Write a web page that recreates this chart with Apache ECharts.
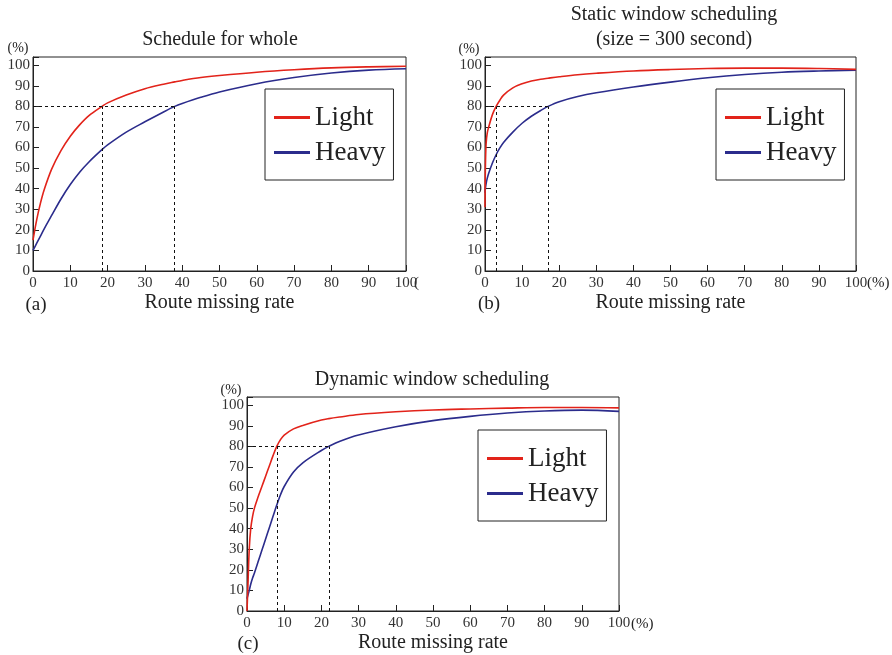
<!DOCTYPE html>
<html><head><meta charset="utf-8">
<script src="https://cdn.jsdelivr.net/npm/echarts@6/dist/echarts.min.js"></script>
<style>html,body{margin:0;padding:0;background:#fff}#c{width:892px;height:655px}</style>
</head><body><div id="c"></div>
<script>
// ---- data ----
const seriesNames = ['Light', 'Heavy'];
const xAxisName = 'Route missing rate';
const panelTitles = [['Schedule for whole'], ['Static window scheduling', '(size = 300 second)'], ['Dynamic window scheduling']];
const panelLetters = ['(a)', '(b)', '(c)'];

const aX      = [0, 1, 2, 3, 5, 7.5, 10, 12.5, 15, 18.5, 20, 25, 30, 35, 38, 40, 45, 50, 60, 70, 80, 90, 100];
const aLight  = [15, 25, 33, 39.5, 49.5, 58.5, 65.5, 71, 75.5, 80, 81.7, 85.5, 88.6, 90.8, 91.9, 92.6, 94, 95, 96.6, 97.8, 98.7, 99.2, 99.5];
const aHeavy  = [10, 13.5, 17, 20.5, 27, 35, 42, 48, 53, 59, 61.3, 67.5, 72.5, 77.3, 80, 81.4, 84.4, 87, 91, 94, 96.2, 97.6, 98.3];
const aGuideX = [18.5, 38];

const bX      = [0, 0.1, 0.3, 0.6, 1, 2, 3, 4, 5, 7.5, 10, 12.5, 15, 17, 20, 25, 30, 40, 50, 60, 70, 80, 90, 100];
const bLight  = [31, 50, 62, 67, 70, 76, 80, 83, 85.5, 89, 91, 92.3, 93.2, 93.7, 94.4, 95.4, 96.1, 97.2, 97.9, 98.4, 98.6, 98.6, 98.4, 98];
const bHeavy  = [38, 40, 42.5, 45, 47.5, 52.5, 56.5, 59.8, 62.5, 67.5, 71.8, 75.2, 78, 80, 82.3, 84.8, 86.6, 89.4, 91.8, 93.9, 95.5, 96.6, 97.2, 97.6];
const bGuideX = [3, 17];

const cX      = [0, 0.3, 0.6, 1, 1.5, 2, 3, 4, 5, 6, 7, 8, 9, 10, 12.5, 15, 20, 22, 25, 30, 40, 50, 60, 70, 80, 90, 100];
const cLight  = [0, 15, 30, 40, 46, 50, 55.5, 60.5, 65.5, 70.5, 75.5, 80, 83.3, 85.5, 88.5, 90.2, 92.8, 93.5, 94.3, 95.5, 96.8, 97.7, 98.2, 98.6, 98.9, 98.9, 98.7];
const cHeavy  = [6, 8, 10, 13, 16, 18.5, 24, 29.5, 35, 40.5, 46, 51.5, 56.5, 60.5, 67.5, 72, 78, 80, 82.5, 85.5, 89.5, 92.5, 94.6, 96.2, 97.2, 97.6, 97];
const cGuideX = [8, 22];
const guideY = 80;

// ---- chart ----
const F = '"Liberation Serif", "Times New Roman", serif';
const INK = '#222';
const RED = '#e2231a', BLUE = '#2b2c8c';

const grids = [
  {left: 33, top: 57, width: 373, height: 214},
  {left: 485, top: 57, width: 371, height: 214},
  {left: 247, top: 397, width: 372, height: 214}
];
const legendPos = [{left: 265, top: 89}, {left: 716, top: 89}, {left: 478, top: 430}];

function zip(xs, ys) { return xs.map((x, i) => [x, ys[i]]); }

function xAx(gi) {
  return {type: 'value', gridIndex: gi, min: 0, max: 100, interval: 10,
    name: xAxisName, nameLocation: 'middle', nameGap: 22,
    nameTextStyle: {fontFamily: F, fontSize: 20, color: INK},
    axisLine: {lineStyle: {color: INK, width: 1}},
    axisTick: {inside: true, length: 6, lineStyle: {color: INK}},
    axisLabel: {fontFamily: F, fontSize: 15, color: '#333', margin: 5},
    splitLine: {show: false}};
}
function yAx(gi) {
  return {type: 'value', gridIndex: gi, min: 0, max: 104, interval: 10,
    axisLine: {show: true, lineStyle: {color: INK, width: 1}},
    axisTick: {inside: true, length: 6, lineStyle: {color: INK}},
    axisLabel: {fontFamily: F, fontSize: 15, color: '#333', margin: 3,
      formatter: v => (v > 100 ? '' : String(v))},
    splitLine: {show: false}};
}
function guides(gx) {
  const xMax = Math.max(...gx);
  const d = [[{coord: [0, guideY]}, {coord: [xMax, guideY]}]];
  gx.forEach(x => d.push([{coord: [x, 0]}, {coord: [x, guideY]}]));
  return {silent: true, symbol: 'none', label: {show: false},
    lineStyle: {color: '#111', type: [3, 3], width: 1}, emphasis: {disabled: true}, data: d};
}
function lineSeries(name, gi, data, color, ml) {
  const s = {type: 'line', name, xAxisIndex: gi, yAxisIndex: gi, data,
    showSymbol: false, smooth: 0.35, z: 3,
    lineStyle: {color, width: 1.6}, itemStyle: {color}};
  if (ml) s.markLine = ml;
  return s;
}

const panels = [[aX, aLight, aHeavy, aGuideX], [bX, bLight, bHeavy, bGuideX], [cX, cLight, cHeavy, cGuideX]];
const series = [];
panels.forEach((p, i) => {
  series.push(lineSeries(seriesNames[1], i, zip(p[0], p[2]), BLUE));
  series.push(lineSeries(seriesNames[0], i, zip(p[0], p[1]), RED, guides(p[3])));
});

const legends = legendPos.map(lp => ({
  left: lp.left, top: lp.top, orient: 'vertical', data: seriesNames,
  borderColor: INK, borderWidth: 1, padding: [15, 8, 14, 9], itemGap: 8,
  itemWidth: 36, itemHeight: 3, icon: 'rect', itemTextGap: 13,
  selectedMode: false, textStyle: {fontFamily: F, fontSize: 27, color: INK}
}));

function txt(text, x, y, size, align) {
  return {type: 'text', x, y, silent: true, style: {text, font: size + 'px ' + F, fill: INK,
    align: align || 'center', verticalAlign: 'middle', textAlign: align || 'center', textVerticalAlign: 'middle'}};
}
const graphic = [
  txt(panelTitles[0][0], 220, 40, 20),
  txt(panelTitles[1][0], 674, 15, 20),
  txt(panelTitles[1][1], 674, 40, 20),
  txt(panelTitles[2][0], 432, 380, 20),
  txt('(%)', 18, 48, 14), txt('(%)', 469, 49, 14), txt('(%)', 231, 390, 14),
  txt('(', 414, 283, 15, 'left'), txt('(%)', 867, 283, 15, 'left'), txt('(%)', 631, 624, 15, 'left'),
  txt(panelLetters[0], 36, 305, 19), txt(panelLetters[1], 489, 304, 19), txt(panelLetters[2], 248, 644, 19)
];

const chart = echarts.init(document.getElementById('c'), null, {renderer: 'canvas'});
chart.setOption({
  animation: false,
  backgroundColor: '#fff',
  grid: grids.map(g => Object.assign({show: true, borderColor: INK, borderWidth: 1, backgroundColor: 'transparent'}, g)),
  xAxis: [0, 1, 2].map(xAx),
  yAxis: [0, 1, 2].map(yAx),
  legend: legends,
  graphic,
  series
});
</script></body></html>
